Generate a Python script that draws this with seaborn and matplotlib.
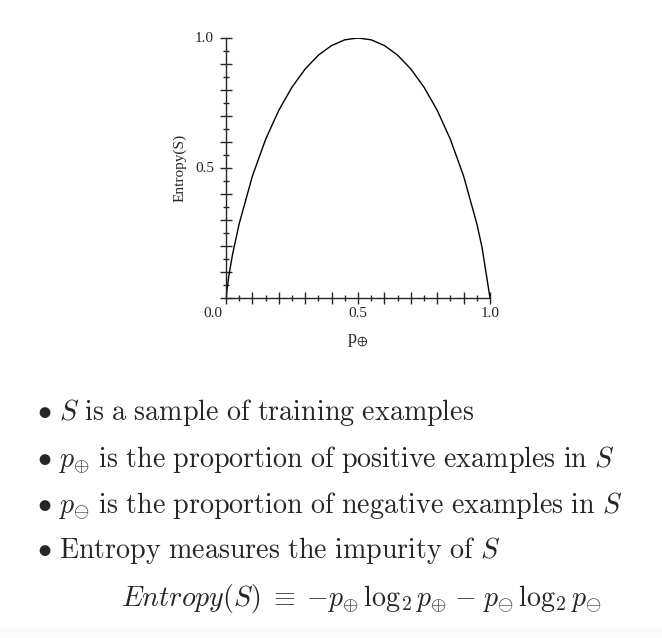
import matplotlib
matplotlib.use("Agg")
import matplotlib.pyplot as plt
import seaborn as sns
from matplotlib.ticker import MultipleLocator

# values
p_pos = [0.0, 0.01, 0.025, 0.05, 0.1, 0.15, 0.2, 0.25, 0.3, 0.35, 0.4, 0.45, 0.5,
         0.55, 0.6, 0.65, 0.7, 0.75, 0.8, 0.85, 0.9, 0.95, 0.97, 1.0]
entropy = [0.0, 0.081, 0.169, 0.286, 0.469, 0.610, 0.722, 0.811, 0.881, 0.934, 0.971, 0.993, 1.0,
           0.993, 0.971, 0.934, 0.881, 0.811, 0.722, 0.610, 0.469, 0.286, 0.194, 0.0]

x_labels = ["0.0", "0.5", "1.0"]
y_labels = ["0.5", "1.0"]

bullets = [
    r"$\bullet\ S\ \mathrm{is\ a\ sample\ of\ training\ examples}$",
    r"$\bullet\ p_{\oplus}\ \mathrm{is\ the\ proportion\ of\ positive\ examples\ in}\ S$",
    r"$\bullet\ p_{\ominus}\ \mathrm{is\ the\ proportion\ of\ negative\ examples\ in}\ S$",
    r"$\bullet\ \mathrm{Entropy\ measures\ the\ impurity\ of}\ S$",
]
formula = (r"$Entropy(S)\;\equiv\;{-}p_{\oplus}\,\log_2 p_{\oplus}\;{-}\;"
           r"p_{\ominus}\,\log_2 p_{\ominus}$")

sns.set_style("ticks")
plt.rcParams["font.family"] = ["Liberation Serif", "DejaVu Serif"]

fig = plt.figure(figsize=(6.62, 6.38), dpi=100)
ax = fig.add_axes([226 / 662, 1 - 298 / 638, 264 / 662, 260 / 638])

sns.lineplot(x=p_pos, y=entropy, color="black", linewidth=1.0, ax=ax)

ax.set_xlim(0, 1)
ax.set_ylim(0, 1)
sns.despine(ax=ax)
for s in ["left", "bottom"]:
    ax.spines[s].set_linewidth(1.0)

ax.xaxis.set_major_locator(MultipleLocator(0.1))
ax.xaxis.set_minor_locator(MultipleLocator(0.05))
ax.yaxis.set_major_locator(MultipleLocator(0.1))
ax.yaxis.set_minor_locator(MultipleLocator(0.05))
ax.tick_params(which="major", direction="inout", length=8, width=1, labelsize=0)
ax.tick_params(which="minor", direction="inout", length=5, width=1)
ax.set_xticklabels([])
ax.set_yticklabels([])

# labelled values drawn as text at the axis positions
for lab in x_labels:
    v = float(lab)
    ax.text(v - (0.05 if v == 0 else 0), -0.035, lab, ha="center", va="top", fontsize=11)
for lab in y_labels:
    ax.text(-0.045, float(lab), lab, ha="right", va="center", fontsize=11)

ax.set_ylabel("Entropy(S)", fontsize=11, labelpad=21)
ax.set_xlabel(r"$\mathregular{p_{\oplus}}$", fontsize=13, labelpad=17)

ys = [420, 467, 513, 558]
for y, t in zip(ys, bullets):
    fig.text(37 / 662, 1 - y / 638, t, fontsize=20.2, math_fontfamily="cm", va="baseline")
fig.text(121 / 662, 1 - 606 / 638, formula, fontsize=20.2, math_fontfamily="cm", va="baseline")

fig.patches.append(plt.Rectangle((0, 0), 1, 10 / 638, transform=fig.transFigure,
                                 facecolor="#fafafa", edgecolor="none", zorder=-1))

fig.savefig("out.png", dpi=100)
